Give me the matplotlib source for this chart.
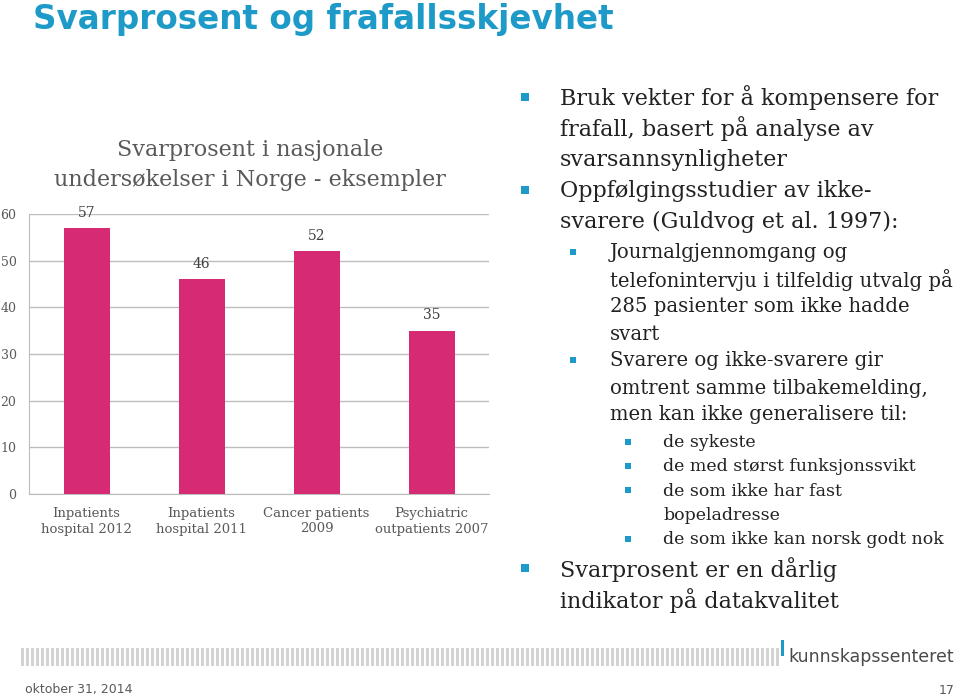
import matplotlib.pyplot as plt
from matplotlib.patches import Rectangle

# data
categories = ["Inpatients\nhospital 2012", "Inpatients\nhospital 2011",
              "Cancer patients\n2009", "Psychiatric\noutpatients 2007"]
svarprosent = [57, 46, 52, 35]
yticks = [0, 10, 20, 30, 40, 50, 60]

# bullet text: (level, lines)
bullets = [
    (1, ["Bruk vekter for å kompensere for", "frafall, basert på analyse av", "svarsannsynligheter"]),
    (1, ["Oppfølgingsstudier av ikke-", "svarere (Guldvog et al. 1997):"]),
    (2, ["Journalgjennomgang og", "telefonintervju i tilfeldig utvalg på",
         "285 pasienter som ikke hadde", "svart"]),
    (2, ["Svarere og ikke-svarere gir", "omtrent samme tilbakemelding,",
         "men kan ikke generalisere til:"]),
    (3, ["de sykeste"]),
    (3, ["de med størst funksjonssvikt"]),
    (3, ["de som ikke har fast", "bopeladresse"]),
    (3, ["de som ikke kan norsk godt nok"]),
    (1, ["Svarprosent er en dårlig", "indikator på datakvalitet"]),
]

blue = "#1E9AC8"
pink = "#D62A74"
grey = "#595959"
serif = "DejaVu Serif"

fig = plt.figure(figsize=(9.6, 7), dpi=100)

# overlay in pixel coordinates for the slide decoration
ov = fig.add_axes([0, 0, 1, 1])
ov.set_xlim(0, 960)
ov.set_ylim(700, 0)
ov.axis("off")

ov.text(33, 19, "Svarprosent og frafallsskjevhet", color=blue, fontsize=23.5,
        fontweight="bold", family="DejaVu Sans", va="center", ha="left")

ov.text(250, 165, "Svarprosent i nasjonale\nundersøkelser i Norge - eksempler",
        color=grey, fontsize=16, family=serif, ha="center", va="center",
        linespacing=1.45)

# bullets
style = {1: dict(bx=525, tx=560, size=16, step=31, sq=8),
         2: dict(bx=573, tx=610, size=14.1, step=27, sq=6),
         3: dict(bx=628, tx=663, size=12.5, step=24.3, sq=6)}
y = 98
prev = None
for level, lines in bullets:
    s = style[level]
    if prev is not None and prev != level:
        y += (style[prev]["step"] + s["step"]) / 2 + 2 - style[prev]["step"]
    ov.add_patch(Rectangle((s["bx"] - s["sq"] / 2, y - s["sq"] / 2 - 1), s["sq"], s["sq"],
                           color=blue, lw=0))
    for line in lines:
        ov.text(s["tx"], y, line, fontsize=s["size"], family=serif, color="#222222",
                va="center", ha="left")
        y += s["step"]
    prev = level

# footer barcode
for i in range(152):
    x0 = 21 + i * 5
    ov.add_patch(Rectangle((x0, 648), 3, 18, color="#d3d3d3", lw=0))
ov.add_patch(Rectangle((781, 640), 3, 16, color=blue, lw=0))
ov.text(788, 657, "kunnskapssenteret", fontsize=12.5, color="#4a4a4a",
        family="DejaVu Sans", va="center", ha="left")
ov.text(25, 690, "oktober 31, 2014", fontsize=9, color=grey, va="center")
ov.text(955, 690, "17", fontsize=9, color=grey, va="center", ha="right")

# bar chart
ax = fig.add_axes([29 / 960, 1 - 494 / 700, 460 / 960, 280 / 700])
bars = ax.bar(range(len(categories)), svarprosent, width=0.4, color=pink, zorder=3)
ax.bar_label(bars, padding=6, fontsize=10, family=serif, color="#404040")
ax.set_xlim(-0.5, 3.5)
ax.set_ylim(0, 60)
ax.set_yticks(yticks)
ax.set_yticklabels([str(t) for t in yticks], family=serif, fontsize=9, color=grey)
ax.set_xticks(range(len(categories)))
ax.set_xticklabels(categories, family=serif, fontsize=9.5, color=grey, linespacing=1.3)
ax.tick_params(length=0, axis="y", pad=9)
ax.tick_params(length=0, axis="x", pad=9)
ax.grid(axis="y", color="#bdbdbd", lw=1, zorder=0)
for side in ["top", "right"]:
    ax.spines[side].set_visible(False)
ax.spines["left"].set_color("#bdbdbd")
ax.spines["bottom"].set_color("#bdbdbd")
ax.set_facecolor("none")

fig.savefig("out.png", dpi=100)
